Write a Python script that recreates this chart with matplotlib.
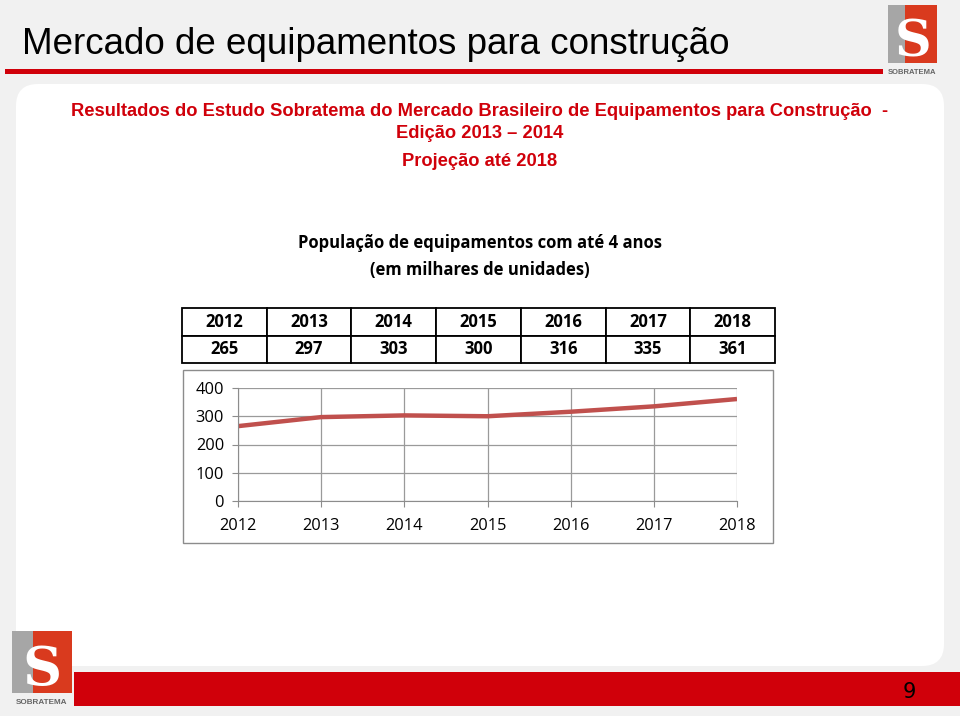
import matplotlib.pyplot as plt
from matplotlib.patches import Rectangle, FancyBboxPatch

years = [2012, 2013, 2014, 2015, 2016, 2017, 2018]
values = [265, 297, 303, 300, 316, 335, 361]
y_ticks = [0, 100, 200, 300, 400]

red = '#d0000a'
line_red = '#c0504d'
W, H = 960, 716

fig = plt.figure(figsize=(9.6, 7.16), dpi=100)
fig.patch.set_facecolor('#f1f1f1')

# background axes in pixel coordinates
bg = fig.add_axes([0, 0, 1, 1])
bg.set_xlim(0, W)
bg.set_ylim(H, 0)
bg.axis('off')

# white rounded panel
bg.add_patch(FancyBboxPatch((16, 84), 928, 582, boxstyle='round,pad=0,rounding_size=22',
                            facecolor='white', edgecolor='none'))
# red line under title and footer bar
bg.add_patch(Rectangle((5, 69), 878, 5, facecolor=red, edgecolor='none'))
bg.add_patch(Rectangle((74, 672), 886, 34, facecolor=red, edgecolor='none'))


def logo(x, y, w, h):
    bh = h * 0.8
    bg.add_patch(Rectangle((x, y), w, bh, facecolor='#a6a6a6', edgecolor='none'))
    bg.add_patch(Rectangle((x + w * 0.35, y), w * 0.65, bh, facecolor='#d93a1e', edgecolor='none'))
    bg.text(x + w / 2, y + bh * 0.55, 'S', fontsize=h * 0.5, color='white', ha='center', va='center_baseline',
            family='DejaVu Serif', fontweight='bold')
    bg.text(x + w / 2, y + h * 0.92, 'SOBRATEMA', fontsize=h * 0.075, color='#666666', ha='center',
            va='center', fontweight='bold', family='Liberation Sans')


logo(888, 5, 49, 73)
logo(12, 631, 60, 78)

bg.text(22, 45, 'Mercado de equipamentos para construção', fontsize=26.5, family='Liberation Sans',
        va='center', ha='left', color='black')

sub_kw = dict(fontsize=13.2, fontweight='bold', color=red, ha='center', va='center', family='Liberation Sans')
bg.text(480, 111, 'Resultados do Estudo Sobratema do Mercado Brasileiro de Equipamentos para Construção  -',
        **sub_kw)
bg.text(480, 134, 'Edição 2013 – 2014', **sub_kw)
bg.text(480, 161, 'Projeção até 2018', **sub_kw)

bg.text(480, 243, 'População de equipamentos com até 4 anos', fontsize=12, fontweight='bold',
        ha='center', va='center', family='Open Sans')
bg.text(480, 270, '(em milhares de unidades)', fontsize=12, fontweight='bold',
        ha='center', va='center', family='Open Sans')

bg.text(909, 692, '9', fontsize=15, ha='center', va='center', color='black')

# data table
tx0, tx1, ty0, ty1 = 182, 775, 308, 363
cw = (tx1 - tx0) / len(years)
rh = (ty1 - ty0) / 2
for i, (yr, v) in enumerate(zip(years, values)):
    for r, txt in enumerate([str(yr), str(v)]):
        bg.add_patch(Rectangle((tx0 + i * cw, ty0 + r * rh), cw, rh, facecolor='white',
                               edgecolor='black', linewidth=1.3))
        bg.text(tx0 + (i + 0.5) * cw, ty0 + (r + 0.5) * rh, txt, fontsize=12, fontweight='bold',
                ha='center', va='center', family='Open Sans')

# chart outer box
bg.add_patch(Rectangle((183, 370), 590, 173, facecolor='white', edgecolor='#8c8c8c', linewidth=1))

# line chart
ax = fig.add_axes([238 / W, 1 - 501 / H, (737 - 238) / W, (501 - 388) / H])
ax.plot(years, values, color=line_red, linewidth=3.2, solid_capstyle='butt')
ax.set_xlim(years[0], years[-1])
ax.set_ylim(0, 400)
ax.set_yticks(y_ticks)
ax.set_xticks(years)
ax.grid(True, color='#9a9a9a', linewidth=0.9)
ax.set_axisbelow(True)
for s in ['top', 'right']:
    ax.spines[s].set_visible(False)
for s in ['left', 'bottom']:
    ax.spines[s].set_color('#8c8c8c')
ax.tick_params(axis='both', color='#8c8c8c', length=4, labelsize=11.8)
ax.tick_params(axis='x', pad=8)
ax.tick_params(axis='y', pad=6)
for lab in ax.get_xticklabels() + ax.get_yticklabels():
    lab.set_family('Open Sans')

fig.savefig('out.png', dpi=100, facecolor=fig.get_facecolor())
